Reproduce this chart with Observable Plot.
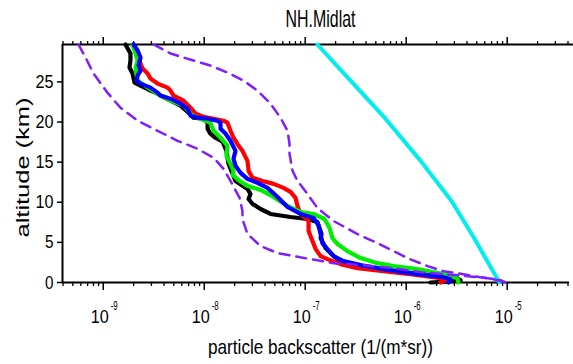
<!DOCTYPE html>
<html><head><meta charset="utf-8">
<script src="https://cdn.jsdelivr.net/npm/d3@7"></script>
<script src="https://cdn.jsdelivr.net/npm/@observablehq/plot@0.6"></script>
<style>
body{margin:0;background:#fff;}
</style></head><body><div id="chart"></div>
<script>
const title = "NH.Midlat";
const xLabel = "particle backscatter (1/(m*sr))";
const yLabel = "altitude (km)";
const yTicks = [0, 5, 10, 15, 20, 25];
const decadeTicks = [1e-9, 1e-8, 1e-7, 1e-6, 1e-5];
const decadeExponents = ["-9", "-8", "-7", "-6", "-5"];

const blackAlt = [29.66, 28.54, 27.66, 26.79, 26.04, 25.41, 24.91, 24.54, 23.91, 23.54, 23.29, 22.66, 22.04, 21.16, 20.54, 20.41, 19.91, 19.16, 18.54, 18.04, 17.54, 16.41, 14.79, 13.54, 12.66, 11.66, 11.04, 10.41, 9.79, 9.16, 8.54, 8.16, 7.91, 7.54, 6.04, 5.54, 4.29, 3.29, 2.41, 1.79, 1.29, 0.91, 0.54, 0.29, 0.1, 0];
const blackVal = [1.66e-9, 1.86e-9, 1.86e-9, 1.82e-9, 1.95e-9, 2.0e-9, 2.04e-9, 2.34e-9, 2.94e-9, 3.45e-9, 3.69e-9, 4.64e-9, 5.83e-9, 6.99e-9, 7.83e-9, 9.84e-9, 1.08e-8, 1.08e-8, 1.15e-8, 1.29e-8, 1.52e-8, 1.66e-8, 1.74e-8, 1.91e-8, 2.04e-8, 2.68e-8, 2.87e-8, 2.75e-8, 3.01e-8, 3.61e-8, 4.53e-8, 7.15e-8, 1.05e-7, 1.32e-7, 1.45e-7, 1.42e-7, 1.59e-7, 1.91e-7, 2.39e-7, 4.14e-7, 8.78e-7, 1.86e-6, 3.22e-6, 3.45e-6, 2.45e-6, 1.74e-6];

const redAlt = [29.66, 28.54, 27.29, 26.66, 26.04, 25.41, 24.79, 24.29, 23.91, 23.29, 22.66, 21.79, 21.04, 20.66, 20.41, 20.16, 19.91, 18.91, 18.04, 17.04, 16.41, 15.16, 13.91, 13.04, 12.66, 12.29, 11.79, 11.29, 10.54, 9.54, 8.54, 7.66, 6.41, 5.16, 4.16, 3.29, 2.91, 2.29, 1.79, 1.41, 1.04, 0.66, 0.41, 0];
const redVal = [2.0e-9, 2.19e-9, 2.34e-9, 2.45e-9, 2.75e-9, 2.94e-9, 3.45e-9, 4.33e-9, 4.64e-9, 4.97e-9, 6.24e-9, 7.32e-9, 8.2e-9, 9.84e-9, 1.24e-8, 1.55e-8, 1.70e-8, 1.82e-8, 1.95e-8, 2.19e-8, 2.39e-8, 2.68e-8, 2.75e-8, 3.01e-8, 3.78e-8, 4.86e-8, 6.1e-8, 7.15e-8, 8.02e-8, 8.39e-8, 8.99e-8, 1.08e-7, 1.08e-7, 1.18e-7, 1.27e-7, 1.42e-7, 1.66e-7, 2.24e-7, 3.29e-7, 5.96e-7, 1.10e-6, 1.86e-6, 2.56e-6, 2.19e-6];

const greenAlt = [29.66, 28.54, 27.66, 26.79, 25.79, 25.16, 24.29, 23.29, 22.66, 22.04, 20.79, 20.41, 19.91, 18.91, 18.04, 17.04, 15.79, 14.79, 13.91, 13.41, 12.66, 12.04, 11.54, 10.66, 9.54, 8.79, 8.54, 7.91, 6.79, 5.54, 4.79, 3.91, 3.04, 2.41, 2.04, 1.66, 1.04, 0.54, 0];
const greenVal = [1.95e-9, 2.09e-9, 2.19e-9, 2.09e-9, 2.14e-9, 2.19e-9, 2.75e-9, 3.69e-9, 4.64e-9, 6.24e-9, 7.66e-9, 9.19e-9, 1.15e-8, 1.24e-8, 1.45e-8, 1.70e-8, 1.66e-8, 1.82e-8, 1.95e-8, 1.91e-8, 2.24e-8, 2.68e-8, 3.61e-8, 4.86e-8, 6.68e-8, 8.99e-8, 1.21e-7, 1.55e-7, 1.74e-7, 1.86e-7, 2.09e-7, 2.62e-7, 3.53e-7, 5.2e-7, 7.49e-7, 1.29e-6, 2.34e-6, 3.22e-6, 3.29e-6];

const blueAlt = [29.66, 28.91, 28.04, 27.04, 26.41, 25.79, 25.16, 24.79, 24.29, 23.66, 23.29, 22.91, 22.29, 21.66, 20.79, 20.54, 20.41, 20.16, 19.91, 19.16, 18.54, 17.66, 16.41, 15.41, 14.54, 13.66, 12.91, 12.41, 11.79, 10.66, 9.41, 8.54, 8.04, 7.16, 6.04, 4.91, 4.16, 3.29, 2.66, 2.16, 1.66, 1.04, 0.66, 0.41, 0];
const blueVal = [2.0e-9, 2.19e-9, 2.34e-9, 2.24e-9, 2.34e-9, 2.19e-9, 2.14e-9, 2.34e-9, 2.94e-9, 3.45e-9, 3.69e-9, 4.64e-9, 5.83e-9, 6.83e-9, 7.32e-9, 8.59e-9, 1.08e-8, 1.35e-8, 1.45e-8, 1.45e-8, 1.63e-8, 1.82e-8, 2.04e-8, 1.95e-8, 2.04e-8, 2.29e-8, 2.68e-8, 3.37e-8, 4.23e-8, 5.32e-8, 6.68e-8, 8.99e-8, 1.21e-7, 1.35e-7, 1.42e-7, 1.48e-7, 1.66e-7, 1.91e-7, 2.39e-7, 3.53e-7, 5.96e-7, 1.29e-6, 2.34e-6, 2.75e-6, 2.62e-6];

const lowBoundAlt = [29.66, 28.04, 26.04, 23.66, 21.79, 20.16, 18.91, 17.66, 16.66, 15.54, 14.16, 12.66, 10.54, 8.91, 7.91, 6.04, 4.54, 3.66, 3.29, 2.91, 2.41, 2.29, 2.04, 1.66, 1.29, 1.04, 0.79, 0.54, 0.29, 0];
const lowBoundVal = [5.69e-10, 6.68e-10, 8.01e-10, 1.10e-9, 1.48e-9, 2.19e-9, 3.45e-9, 5.44e-9, 8.59e-9, 1.24e-8, 1.55e-8, 1.82e-8, 2.24e-8, 2.39e-8, 2.39e-8, 2.68e-8, 3.61e-8, 5.32e-8, 7.66e-8, 1.13e-7, 1.91e-7, 2.81e-7, 4.75e-7, 8.78e-7, 1.39e-6, 2.34e-6, 4.08e-6, 6.38e-6, 8.59e-6, 9.62e-6];

const highBoundAlt = [29.66, 28.54, 27.66, 27.04, 26.16, 25.16, 23.91, 22.29, 20.54, 18.91, 17.29, 16.04, 13.91, 12.66, 11.04, 9.29, 7.66, 6.04, 4.54, 3.04, 2.04, 1.41, 1.04, 0.66, 0.41, 0];
const highBoundVal = [3.15e-9, 4.64e-9, 7.83e-9, 1.15e-8, 1.70e-8, 2.45e-8, 3.37e-8, 4.53e-8, 5.69e-8, 6.68e-8, 6.99e-8, 6.99e-8, 7.49e-8, 8.39e-8, 1.05e-7, 1.32e-7, 1.91e-7, 3.29e-7, 5.96e-7, 1.03e-6, 1.63e-6, 2.34e-6, 3.69e-6, 5.44e-6, 7.32e-6, 9.62e-6];

const cyanAlt = [29.66, 25.16, 20.41, 15.16, 10.16, 5.66, 0];
const cyanVal = [1.32e-7, 2.81e-7, 6.24e-7, 1.39e-6, 2.81e-6, 4.64e-6, 8.39e-6];

const xDomain = [3.95e-10, 4.14e-5];
const yDomain = [0, 29.66];

const minorTicks = [];
for (let e = -10; e <= -5; e++) for (let m = 2; m <= 9; m++) {
  const v = m * Math.pow(10, e);
  if (v >= xDomain[0] && v <= xDomain[1]) minorTicks.push(v);
}
const rows = (alt, val) => alt.map((a, i) => ({alt: a, val: val[i]}));
const decadeRows = decadeTicks.map((v, i) => ({v, e: decadeExponents[i]}));
const profile = (alt, val, color) => Plot.line(rows(alt, val), {x: "val", y: "alt", stroke: color, strokeWidth: 4.2, strokeLinejoin: "round"});

const chart = Plot.plot({
  width: 573, height: 364,
  marginLeft: 62, marginRight: 4, marginTop: 44, marginBottom: 82,
  style: {fontFamily: '"Liberation Sans", Arial, sans-serif', background: "white", color: "black"},
  x: {type: "log", domain: xDomain, label: null},
  y: {domain: yDomain, label: null},
  marks: [
    Plot.axisX({anchor: "bottom", ticks: minorTicks, tickSize: 4, tickFormat: () => "", strokeWidth: 1.3, label: null}),
    Plot.axisX({anchor: "bottom", ticks: decadeTicks, tickSize: 8, tickFormat: () => "", strokeWidth: 1.5, label: null}),
    Plot.axisX({anchor: "top", ticks: minorTicks, tickSize: 4, tickFormat: () => "", strokeWidth: 1.3, label: null}),
    Plot.axisX({anchor: "top", ticks: decadeTicks, tickSize: 8, tickFormat: () => "", strokeWidth: 1.5, label: null}),
    Plot.axisY({anchor: "left", ticks: yTicks, tickSize: 5, tickPadding: 4, fontSize: 19, strokeWidth: 1.5, label: null}),
    Plot.ruleY([yDomain[0]], {strokeWidth: 2}),
    Plot.ruleY([yDomain[1]], {strokeWidth: 2, x1: () => xDomain[0], x2: () => 4.6e-5}),
    Plot.ruleX([xDomain[0]], {strokeWidth: 2}),
    Plot.line(rows(cyanAlt, cyanVal), {x: "val", y: "alt", stroke: "#00eeee", strokeWidth: 4}),
    profile(blackAlt, blackVal, "black"),
    profile(redAlt, redVal, "#ff0000"),
    profile(greenAlt, greenVal, "#00ee00"),
    profile(blueAlt, blueVal, "#0000ff"),
    Plot.line(rows(lowBoundAlt, lowBoundVal), {x: "val", y: "alt", stroke: "#7f1fff", strokeWidth: 2.5, strokeDasharray: "10,7"}),
    Plot.line(rows(highBoundAlt, highBoundVal), {x: "val", y: "alt", stroke: "#7f1fff", strokeWidth: 2.5, strokeDasharray: "10,7"}),
    Plot.text(decadeRows, {x: "v", text: () => "10", frameAnchor: "bottom", lineAnchor: "bottom", dy: 40.7, dx: -3.5, fontSize: 19, className: "dec-base"}),
    Plot.text(decadeRows, {x: "v", text: "e", frameAnchor: "bottom", lineAnchor: "bottom", dy: 27.3, dx: 7.5, textAnchor: "start", fontSize: 12, className: "dec-exp"}),
    Plot.text([title], {text: d => d, frameAnchor: "top", lineAnchor: "bottom", dy: -18, dx: 4.5, fontSize: 24}),
    Plot.text([xLabel], {text: d => d, frameAnchor: "bottom", lineAnchor: "bottom", dy: 71.3, dx: 4.5, fontSize: 21}),
    Plot.text([yLabel], {text: d => d, frameAnchor: "left", textAnchor: "middle", lineAnchor: "bottom", rotate: -90, dx: -33.7, dy: 4, fontSize: 18})
  ]
});
const fit = (t, L) => { t.setAttribute("textLength", L); t.setAttribute("lengthAdjust", "spacingAndGlyphs"); };
const lengths = {[title]: 70, [xLabel]: 225, [yLabel]: 140};
chart.querySelectorAll("text").forEach(t => {
  const L = lengths[t.textContent];
  if (L) fit(t, L);
});
chart.querySelectorAll('g[aria-label="y-axis tick label"] text').forEach(t => fit(t, t.textContent.length > 1 ? 18 : 8.5));
chart.querySelectorAll('.dec-base text').forEach(t => fit(t, 18));
chart.querySelectorAll('.dec-exp text').forEach(t => fit(t, 7));
document.getElementById("chart").appendChild(chart);
</script></body></html>
